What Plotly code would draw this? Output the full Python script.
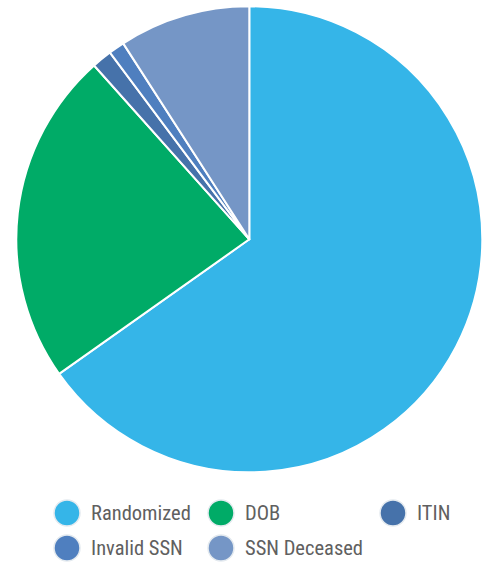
import plotly.graph_objects as go

# Share of records by category
categories = ["Randomized", "DOB", "ITIN", "Invalid SSN", "SSN Deceased"]
shares = [65.2, 23.2, 1.4, 1.1, 9.1]
colors = ["#35b5e8", "#00ab67", "#4672aa", "#4f7fbf", "#7596c6"]

W, H = 491, 567
cx, cy, r = 249.3, 239.3, 233

fig = go.Figure(go.Pie(
    labels=categories,
    values=shares,
    sort=False,
    direction="clockwise",
    rotation=0,
    textinfo="none",
    hoverinfo="label+percent",
    marker=dict(colors=colors, line=dict(color="white", width=2)),
    showlegend=False,
    domain=dict(x=[(cx - r) / W, (cx + r) / W],
                y=[(H - cy - r) / H, (H - cy + r) / H]),
))

# Custom legend: circular swatches in a 3-column grid
col_x = [67, 221, 393]
row_y = [513, 548]
font = dict(family="Roboto", size=20.5, color="#606060")
shapes, annotations = [], []
for i, (name, col) in enumerate(zip(categories, colors)):
    x = col_x[i % 3] / W
    y = 1 - row_y[i // 3] / H
    shapes.append(dict(
        type="circle", xref="paper", yref="paper",
        xsizemode="pixel", ysizemode="pixel", xanchor=x, yanchor=y,
        x0=-13, x1=13, y0=-13, y1=13,
        fillcolor=col, line=dict(color="#e4eaef", width=1.5),
    ))
    annotations.append(dict(
        x=x, y=y, xref="paper", yref="paper",
        text=f'<span style="font-stretch:75%">{name}</span>',
        xanchor="left", yanchor="middle", xshift=22, showarrow=False,
        font=font,
    ))

fig.update_layout(
    width=W, height=H,
    margin=dict(l=0, r=0, t=0, b=0),
    paper_bgcolor="white", plot_bgcolor="white",
    shapes=shapes, annotations=annotations,
)

fig.write_html("out.html")
